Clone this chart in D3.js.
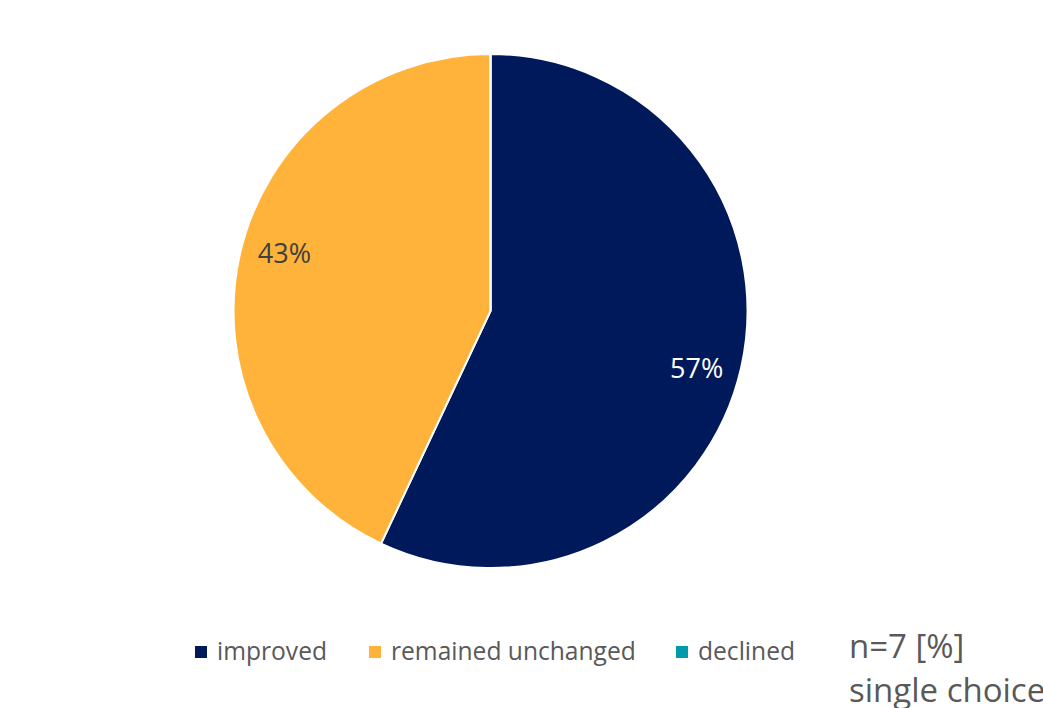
<!DOCTYPE html>
<html lang="en">
<head>
    <meta charset="utf-8">
    <title>Pie</title>
    <script src="https://d3js.org/d3.v7.min.js"></script>
    <style>
        body { margin: 0; background: #fff; overflow: hidden; }
        text { font-family: "Open Sans", "Noto Sans", sans-serif; }
    </style>
</head>
<body>
    <script type="text/javascript">
        var categories = ["improved", "remained unchanged", "declined"];
        var values = [57, 43, 0];
        var labels = ["57%", "43%", ""];
        var colors = ["#00195a", "#ffb33b", "#009aaa"];

        var w = 1043;
        var h = 708;
        var cx = 490.5, cy = 311, r = 257;

        var svg = d3.select("body")
                    .append("svg")
                    .attr("width", w)
                    .attr("height", h);

        var pie = d3.pie().sort(null).value(function(d) { return d; });
        var arc = d3.arc().innerRadius(0).outerRadius(r);

        // label spot: a bit further round than the slice middle
        var labelR = 214, shift = 3 * Math.PI / 180;
        function labelPos(d) {
            var a = (d.startAngle + d.endAngle) / 2 + shift;
            return [labelR * Math.sin(a), -labelR * Math.cos(a)];
        }

        var arcs = svg.selectAll("g.arc")
                      .data(pie(values))
                      .enter()
                      .append("g")
                      .attr("class", "arc")
                      .attr("transform", "translate(" + cx + "," + cy + ")");

        arcs.append("path")
            .attr("fill", function(d, i) { return colors[i]; })
            .attr("stroke", "#fff")
            .attr("stroke-width", 2)
            .attr("d", arc);

        arcs.append("text")
            .attr("transform", function(d) { return "translate(" + labelPos(d) + ")"; })
            .attr("text-anchor", "middle")
            .attr("dy", "0.35em")
            .attr("font-size", 27)
            .attr("fill", function(d, i) { return i === 0 ? "#ffffff" : "#404040"; })
            .text(function(d, i) { return labels[i]; });

        // legend
        var legendX = [195, 369, 676];
        var legend = svg.selectAll("g.legend")
                        .data(categories)
                        .enter()
                        .append("g")
                        .attr("class", "legend")
                        .attr("transform", function(d, i) { return "translate(" + legendX[i] + ",646)"; });

        legend.append("rect")
              .attr("width", 12)
              .attr("height", 12)
              .attr("fill", function(d, i) { return colors[i]; });

        legend.append("text")
              .attr("x", 22)
              .attr("y", 14)
              .attr("font-size", 24.6)
              .attr("fill", "#595959")
              .text(function(d) { return d; });

        svg.append("text")
           .attr("x", 849)
           .attr("y", 658)
           .attr("font-size", 33)
           .attr("fill", "#595959")
           .text("n=7 [%]");

        svg.append("text")
           .attr("x", 849)
           .attr("y", 702)
           .attr("font-size", 33)
           .attr("fill", "#595959")
           .text("single choice");
    </script>
</body>
</html>
